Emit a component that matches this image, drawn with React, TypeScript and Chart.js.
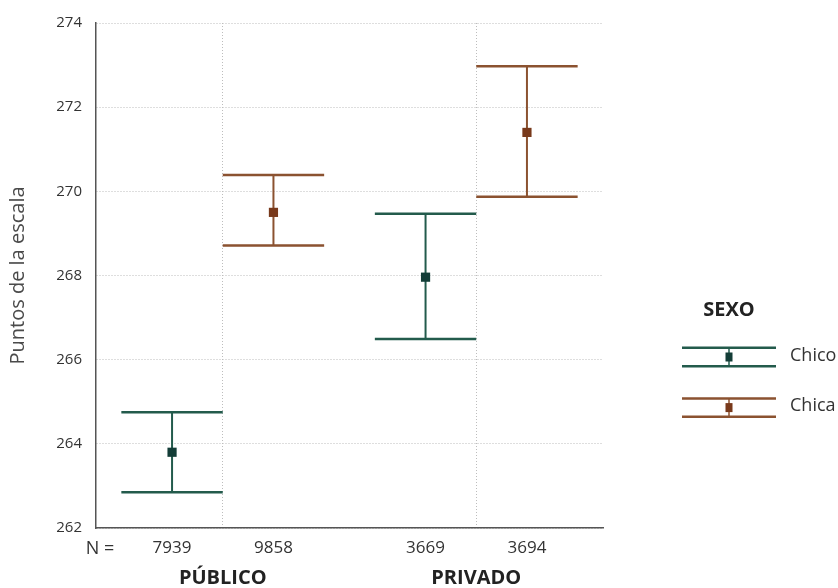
import React, { useEffect, useRef } from 'react';
import { Chart, registerables } from 'chart.js';

Chart.register(...registerables);

// ---- data ----
const groups = ['PÚBLICO', 'PRIVADO'];
const seriesNames = ['Chico', 'Chica'];
const chicoMean = [263.8, 267.96];
const chicoLower = [262.85, 266.49];
const chicoUpper = [264.75, 269.47];
const chicaMean = [269.5, 271.4];
const chicaLower = [268.71, 269.87];
const chicaUpper = [270.39, 272.97];
const chicoN = [7939, 3669];
const chicaN = [9858, 3694];
const yTicks = [262, 264, 266, 268, 270, 272, 274];
const legendTitle = 'SEXO';
const yTitle = 'Puntos de la escala';
const nPrefix = 'N =';

// ---- styles ----
const FONT = "'Open Sans', 'Noto Sans', sans-serif";
const lineColors = ['#235b4c', '#8b5230'];
const markerColors = ['#133d37', '#78391b'];
const GROUP_STEP = 2.5;
const SERIES_OFFSET = 0.5;
const CAP_HALF = 0.5;

const groupCenter = (g: number) => g * GROUP_STEP + 0.5;
const xPos = (g: number, s: number) => groupCenter(g) + (s === 0 ? -SERIES_OFFSET : SERIES_OFFSET);

const means = [chicoMean, chicaMean];
const lowers = [chicoLower, chicaLower];
const uppers = [chicoUpper, chicaUpper];
const counts = [chicoN, chicaN];

export default function App() {
  const ref = useRef<HTMLCanvasElement | null>(null);

  useEffect(() => {
    document.body.style.margin = '0';
    const canvas = ref.current;
    if (!canvas) return;

    const tickLabelMap = new Map<number, string>();
    const tickValues: number[] = [];
    groups.forEach((_, g) => {
      seriesNames.forEach((__, s) => {
        tickLabelMap.set(xPos(g, s), String(counts[s][g]));
        tickValues.push(xPos(g, s));
      });
      tickValues.push(groupCenter(g));
    });
    tickValues.sort((a, b) => a - b);
    const centers = groups.map((_, g) => groupCenter(g));

    const errorBars = {
      id: 'errorBars',
      beforeDatasetsDraw(chart: any) {
        const { ctx, scales } = chart;
        const xs = scales.x;
        const ys = scales.y;
        ctx.save();
        seriesNames.forEach((_, s) => {
          groups.forEach((__, g) => {
            const x = xPos(g, s);
            const px = xs.getPixelForValue(x);
            const pl = xs.getPixelForValue(x - CAP_HALF);
            const pr = xs.getPixelForValue(x + CAP_HALF);
            const yl = ys.getPixelForValue(lowers[s][g]);
            const yu = ys.getPixelForValue(uppers[s][g]);
            ctx.strokeStyle = lineColors[s];
            ctx.lineWidth = 2.5;
            ctx.beginPath();
            ctx.moveTo(pl, yu);
            ctx.lineTo(pr, yu);
            ctx.moveTo(pl, yl);
            ctx.lineTo(pr, yl);
            ctx.stroke();
            ctx.lineWidth = 2;
            ctx.beginPath();
            ctx.moveTo(px, yu);
            ctx.lineTo(px, yl);
            ctx.stroke();
          });
        });
        ctx.restore();
      },
    };

    const extras = {
      id: 'extras',
      afterDraw(chart: any) {
        const { ctx, chartArea, scales } = chart;
        const xs = scales.x;
        ctx.save();
        // N =
        ctx.fillStyle = '#333';
        ctx.font = `18px ${FONT}`;
        ctx.textAlign = 'center';
        ctx.textBaseline = 'middle';
        ctx.fillText(nPrefix, 100, chartArea.bottom + 20.5);
        // group labels
        ctx.fillStyle = '#222';
        ctx.font = `bold 20px ${FONT}`;
        groups.forEach((name, g) => {
          ctx.fillText(name, xs.getPixelForValue(groupCenter(g)), chartArea.bottom + 50);
        });
        // legend
        const lx0 = 682;
        const lx1 = 776;
        const lxm = 729;
        ctx.font = `bold 20px ${FONT}`;
        ctx.fillStyle = '#222';
        ctx.fillText(legendTitle, 729, 310);
        seriesNames.forEach((name, s) => {
          const yc = 357 + s * 50.6;
          ctx.strokeStyle = lineColors[s];
          ctx.lineWidth = 2.5;
          ctx.beginPath();
          ctx.moveTo(lx0, yc - 9.2);
          ctx.lineTo(lx1, yc - 9.2);
          ctx.moveTo(lx0, yc + 9.2);
          ctx.lineTo(lx1, yc + 9.2);
          ctx.stroke();
          ctx.lineWidth = 1.5;
          ctx.beginPath();
          ctx.moveTo(lxm, yc - 9.2);
          ctx.lineTo(lxm, yc + 9.2);
          ctx.stroke();
          ctx.fillStyle = markerColors[s];
          ctx.fillRect(lxm - 3.5, yc - 4.5, 7, 9);
          ctx.fillStyle = '#333';
          ctx.font = `18px ${FONT}`;
          ctx.textAlign = 'left';
          ctx.fillText(name, 790, yc - 1.5);
          ctx.textAlign = 'center';
        });
        ctx.restore();
      },
    };

    const chart = new Chart(canvas, {
      type: 'scatter',
      data: {
        datasets: seriesNames.map((name, s) => ({
          label: name,
          data: groups.map((_, g) => ({ x: xPos(g, s), y: means[s][g] })),
          backgroundColor: markerColors[s],
          borderColor: markerColors[s],
          borderWidth: 0,
          pointStyle: 'rect',
          pointRadius: 6.5,
          showLine: false,
        })),
      },
      options: {
        responsive: false,
        animation: false,
        events: [],
        layout: { padding: { left: 0, top: 21, right: 235, bottom: 0 } },
        plugins: {
          legend: { display: false },
          tooltip: { enabled: false },
        },
        scales: {
          x: {
            type: 'linear',
            min: -0.75,
            max: 4.25,
            afterBuildTicks(scale: any) {
              scale.ticks = tickValues.map((v) => ({ value: v }));
            },
            afterFit(scale: any) {
              scale.height = 60;
            },
            ticks: {
              autoSkip: false,
              maxRotation: 0,
              padding: 10,
              color: '#333',
              font: { family: FONT, size: 17 },
              callback: (v: any) => tickLabelMap.get(Number(v)) ?? '',
            },
            grid: {
              drawTicks: false,
              color: (c: any) => (c.tick && centers.includes(c.tick.value) ? '#bdbdbd' : 'rgba(0,0,0,0)'),
              lineWidth: 1,
            },
            border: { display: true, color: '#555', width: 1.5, dash: [1, 2] },
          },
          y: {
            type: 'linear',
            min: 262,
            max: 274,
            afterBuildTicks(scale: any) {
              scale.ticks = yTicks.map((v) => ({ value: v }));
            },
            afterFit(scale: any) {
              scale.width = 96;
            },
            ticks: {
              padding: 14,
              color: '#333',
              font: { family: FONT, size: 15 },
            },
            grid: {
              drawTicks: false,
              color: '#bdbdbd',
              lineWidth: 1,
            },
            border: { display: true, color: '#555', width: 1.5, dash: [1, 2] },
            title: {
              display: true,
              text: yTitle,
              color: '#4a4a4a',
              font: { family: FONT, size: 20 },
              padding: { top: 6, bottom: 0 },
            },
          },
        },
      },
      plugins: [errorBars, extras],
    });

    return () => chart.destroy();
  }, []);

  return <canvas ref={ref} width={838} height={588} style={{ display: 'block' }} />;
}
